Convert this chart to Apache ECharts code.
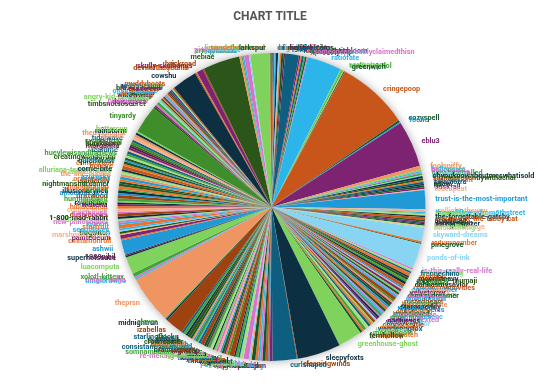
<!DOCTYPE html>
<html><head><meta charset="utf-8">
<script src="https://cdn.jsdelivr.net/npm/echarts@6/dist/echarts.min.js"></script>
<style>html,body{margin:0;padding:0;background:#fff}#c{width:540px;height:392px}</style>
</head><body><div id="c"></div>
<script>
const palette = {
  A:'#2cb5ea', B:'#c8561a', C:'#7d2371', D:'#0c3041', E:'#7fd35d', F:'#0e5f7f',
  G:'#2c5619', H:'#d971cd', I:'#ee9561', J:'#40a43c', K:'#14572a', L:'#1f9ad6',
  M:'#88d4f3', N:'#a2df88', O:'#e9732c', P:'#9e430f', Q:'#3e8e2b', R:'#f5b08f', S:'#5c1d4d'
};
const titleText = 'CHART TITLE';

const q1Names = ['crimpedbeats','bloomsday','weedyglow','mossjournal','fuzzyfeelings','ghostlyfern','nightjar-sings','hadesbloom','lapisbird','cherryghosts','ryebread','apocalypticbloom','openskies','venusflytrap','someoneprobablyclaimedthisn','ratiofate','seamstress','soda-pop-lol','sadlawyer','greenwich','cringepoop','cozyspell','foone','eblu3','foolsniffy','batherines','hellospam','lilacdreams','sunshinetrolled','pixelmoss','ohyouknowaboutmeswhatisold','sittingpresentlywithachai','starryknight','zelamorre','nsaw','ell','duskfall','teacupcat','trust-is-the-most-important'];
const q1Values = [5,6,6,8,6,6,8,6,52,6,5,8,5,6,4,130,5,5,4,4,273,8,4,176,14,6,5,4,6,4,8,8,6,7,6,8,6,4,72];
const q1Colors = ['F','B','A','D','M','O','K','S','F','C','O','F','J','K','H','A','E','J','N','K','B','K','L','C','I','E','A','H','J','M','D','G','O','F','D','K','C','R','L'];

const q2Names = ['wellight-theway','thewallflowerfrom6thstreet','memorabilia','incrementalfortune','the-forgettable-gatsby','crappy-cat-the-tabby-cat','puzzlenut','witchymom','darkstargazer','marigolds','lemonbeverage','birchofliving','skyward-dreams','autumnember','pinegrove','ponds-of-ink','is-this-really-real-life','greenteafrog','freppechino','relchinn','moonlitnavy','mumaji97-mumaji','frogsalad','dahliasmysavior','chaoticnandovibes','cometcrusher','sugarcubes','velvetcrow','honeyblossom','drowsydreamer','thistledown','oceanbound','rustedgears','gloomyglen','berrycompote','stargazerlily','deepwoods','bluebell-fields','catnapping','mybeloved','lavenderhaze','stan-in-paniccc','sproutling','echoduetlexted','nocturnes','wildberry','rainypetrichor','copperkettle','clovercat','maplesyrup','wanderingfox','hayateart','mossyboots','pumpkinpatch','fernhollow','greenhouse-ghost','sleepyfoxts','cleaningwinds','curlshaped'];
const q2Values = [10,5,4,5,6,10,6,6,4,5,4,5,50,7,4,95,6,8,7,12,6,10,8,10,12,6,5,9,6,8,5,8,12,7,6,7,9,8,10,9,6,7,9,5,8,6,7,10,6,8,9,12,10,8,9,90,164,3,92];
const q2Colors = ['R','A','E','N','D','B','G','C','D','K','R','N','M','O','K','M','H','N','F','O','D','G','J','D','B','L','R','C','E','K','H','A','P','Q','I','S','K','L','O','G','H','A','J','H','D','C','M','P','E','O','F','N','J','O','K','E','D','P','F'];

const q3Names = ['plumjam','bluejay','tangerinetrees','sprucewood','pinkcloudz','seafoamwaves','spicedcider','forestfloor','goldenhour','skyblu','peonypetals','sagebrush','kelpforest','junebug','midnightowl','rusticbarn','cattail','hotjuice','boysenberry','kawaiicore','watersprite','peachfuzz','re-melting-caterpillar','grasshopper','dalllia','vague-aesthetic','somnambulant-dreams','nightcap','brambleberry','emberglow','consistantlyconfused','tidepools','olivebranch','fitscientist','duskyrose','crowfeather','thornbush','inkwell','lichen','starlingflock','izabellas','midnightrun','clover','theprsn','timelordwho','catgirl-haiju','xolotl-kittenx','luacomputa','superhotsauce','1989nibil','ashwii','cinnamonroll','paintedeum'];
const q3Values = [10,6,10,12,8,8,10,14,5,6,20,14,6,10,6,18,8,6,6,10,6,8,8,8,6,10,10,6,10,14,8,5,10,6,7,8,12,8,10,8,70,6,5,180,6,6,14,65,6,5,55,6,14];
const q3Colors = ['C','L','B','K','H','A','O','K','I','M','H','N','F','J','D','P','Q','O','C','G','L','R','H','E','D','N','J','S','K','P','F','A','Q','L','I','K','G','D','J','F','P','D','J','I','A','H','J','E','D','S','L','O','C'];

const q4Names = ['marshmallowfluff','bogwitch','glassfrog','seaglasses','starfruit','lagoon','new-philosopher','tuffbutcutestuff','1-800-mad-rabbit','dustybooks','pastelpink','cottoncandy','hibiscustea','wisteria','ravenclaw','mintchip','hummingbird','driftwood','amaacuteak23','illusionarynell','lilypads','mangotango','nightmarishdreamer','spiderlily','orangepeel','azuresky','the-line-bubble','cursedpoetry','alluriana-teanna-astra','corrie-bite','bonfire','crimsoroon','quietforest','bluemoon','creatingwondorum','sweetpea','hueylewisandthenews','tealtime','peachtea','morganite','blackberry','kurytteboo','swampfrog','tidalwave','apricot','thembologist','rainstorm','buttercup','tinyardy','timbsnotsosecret','daisng345','pinkbubbles','eirxair','frostbite','angry-kid-unleashed','willowwisp','hollyberry','sundew','belljar','oldlighthouse','rosethorn','elmstreet','bramblewood','twilightzone','sparrowsong','peppermint','muddyboots','cowshu','devilofthedetails','cherrybomb','skully-skullianus','brickroad','mebiae','katoo','crimplimeed','icywaters','pinklemonade','bluebottle','limeadeforever','sunsetboulevard','larkspur'];
const q4Values = [5,8,5,6,14,8,7,8,8,12,6,12,10,8,6,5,10,12,8,10,6,10,10,8,8,10,10,6,5,8,12,8,10,6,8,8,8,10,6,8,8,6,10,8,12,10,8,6,105,8,6,6,10,5,8,5,5,6,5,5,5,5,6,6,6,5,6,95,4,4,24,5,140,8,4,6,18,5,72,4,4];
const q4Colors = ['R','G','M','A','O','A','H','N','D','P','H','R','O','C','D','E','J','P','L','D','J','O','G','K','O','L','I','N','E','D','B','O','K','L','G','N','J','F','R','C','S','G','Q','F','R','I','D','E','Q','G','C','H','J','M','E','S','O','K','H','A','I','P','G','C','F','N','B','D','P','O','C','P','G','I','J','A','H','M','E','O','K'];

const names = q1Names.concat(q2Names, q3Names, q4Names);
const values = q1Values.concat(q2Values, q3Values, q4Values);
const keys = q1Colors.concat(q2Colors, q3Colors, q4Colors);

const data = names.map((n, i) => ({
  name: n, value: values[i],
  itemStyle: { color: palette[keys[i]] },
  label: { color: palette[keys[i]] }
}));

const chart = echarts.init(document.getElementById('c'), null, { renderer: 'canvas' });
const center = ['50.28%', '52.8%'];
chart.setOption({
  backgroundColor: '#fff',
  animation: false,
  title: {
    text: titleText, left: 'center', top: 6,
    textStyle: { fontFamily: 'Roboto', fontWeight: 'bold', fontSize: 12, color: '#555' }
  },
  series: [
    {
      type: 'pie', radius: 154, center: center, silent: true, z: 1,
      label: { show: false }, labelLine: { show: false },
      itemStyle: { color: '#fff', shadowBlur: 10, shadowColor: 'rgba(0,0,0,0.35)' },
      data: [{ value: 1, name: '' }]
    },
    {
      type: 'pie', radius: 154, center: center, z: 2,
      startAngle: 90, clockwise: true,
      avoidLabelOverlap: false, minShowLabelAngle: 0,
      label: { show: true, position: 'outside', fontFamily: 'Roboto', fontSize: 7.3, fontWeight: 'bold' },
      labelLine: { show: false, length: 5, length2: 0 },
      labelLayout: { hideOverlap: false, moveOverlap: false },
      itemStyle: { borderWidth: 0 },
      emphasis: { disabled: true },
      data: data
    }
  ]
});
</script></body></html>
